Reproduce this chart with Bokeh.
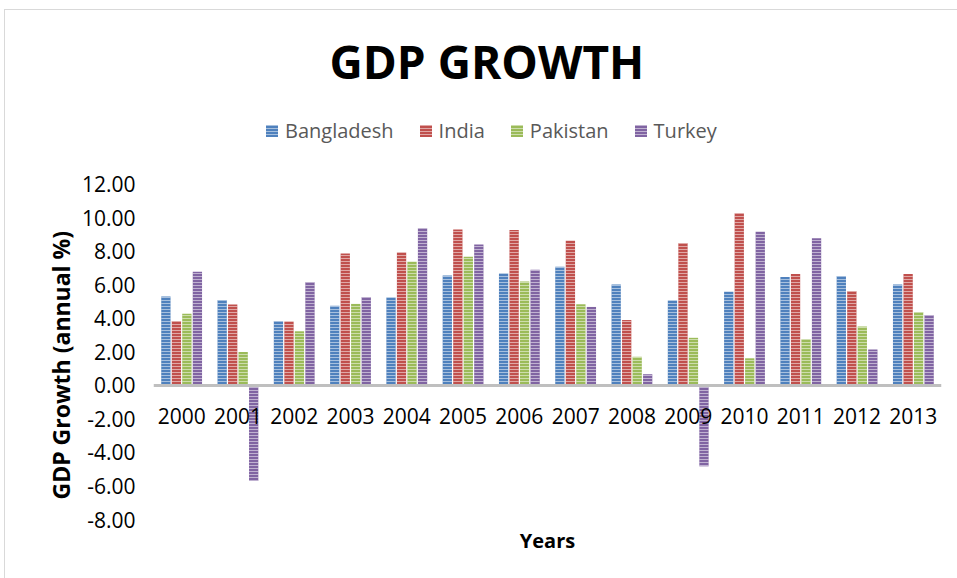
from bokeh.plotting import figure
from bokeh.models import (Range1d, FixedTicker, Legend, LegendItem, Title,
                          ColumnDataSource, CustomJSTickFormatter)
from bokeh.transform import dodge
from bokeh.embed import file_html
from bokeh.resources import INLINE

years = ["2000", "2001", "2002", "2003", "2004", "2005", "2006",
         "2007", "2008", "2009", "2010", "2011", "2012", "2013"]
bangladesh = [5.29, 5.08, 3.83, 4.74, 5.24, 6.54, 6.67, 7.06, 6.01, 5.05, 5.57, 6.46, 6.52, 6.01]
india = [3.84, 4.82, 3.80, 7.86, 7.92, 9.28, 9.26, 8.61, 3.89, 8.48, 10.26, 6.64, 5.62, 6.64]
pakistan = [4.26, 1.98, 3.22, 4.85, 7.37, 7.67, 6.18, 4.83, 1.70, 2.83, 1.61, 2.75, 3.51, 4.37]
turkey = [6.77, -5.70, 6.16, 5.27, 9.36, 8.40, 6.89, 4.67, 0.66, -4.83, 9.16, 8.77, 2.13, 4.19]
series_names = ["Bangladesh", "India", "Pakistan", "Turkey"]
y_ticks = [-8, -6, -4, -2, 0, 2, 4, 6, 8, 10, 12]

colors = ["#4F81BD", "#C0504D", "#9BBB59", "#8064A2"]
FONT = "Open Sans"

idx = list(range(len(years)))
src = ColumnDataSource(dict(x=idx, Bangladesh=bangladesh, India=india,
                            Pakistan=pakistan, Turkey=turkey))

p = figure(width=953, height=569, output_backend="svg", toolbar_location=None,
           x_range=Range1d(-0.5, len(years) - 0.5), y_range=Range1d(-8, 16.5),
           min_border_left=148, min_border_right=17, min_border_top=97,
           min_border_bottom=60)
p.styles = {"margin-left": "4px", "margin-top": "9px",
            "border-top": "1px solid #d9d9d9", "border-left": "1px solid #d9d9d9"}

p.title.text = "GDP GROWTH"
p.title.align = "left"
p.title.offset = 176
p.title.text_font = FONT
p.title.text_font_size = "46px"
p.title.text_font_style = "bold"
p.title.text_color = "black"
p.title.standoff = 34

offsets = [-0.28, -0.093, 0.093, 0.28]
items = []
for name, col, off in zip(series_names, colors, offsets):
    r = p.vbar(x=dodge("x", off), top=name, bottom=0, width=0.165, source=src,
               fill_color=col, line_color=None,
               hatch_pattern="horizontal_line", hatch_color="white",
               hatch_alpha=0.5, hatch_scale=3, hatch_weight=1)
    items.append(LegendItem(label=name, renderers=[r]))

legend = Legend(items=items, orientation="horizontal", location=(111, 375),
                label_text_font=FONT, label_text_font_size="20px",
                label_text_color="#595959", glyph_width=15, glyph_height=15,
                spacing=24, label_standoff=6, border_line_color=None,
                background_fill_alpha=0, margin=0, padding=0)
p.add_layout(legend, "center")

p.xaxis.fixed_location = 0
p.xaxis.ticker = FixedTicker(ticks=idx)
p.xaxis.major_label_overrides = {i: y for i, y in enumerate(years)}
p.xaxis.axis_line_color = "#BFBFBF"
p.xaxis.axis_line_width = 3
p.xaxis.major_tick_line_color = None
p.xaxis.minor_tick_line_color = None
p.xaxis.major_label_text_font = FONT
p.xaxis.major_label_text_font_size = "21px"
p.xaxis.major_label_text_color = "black"
p.xaxis.major_label_standoff = 17

p.yaxis.ticker = FixedTicker(ticks=y_ticks)
p.yaxis.formatter = CustomJSTickFormatter(code="return tick.toFixed(2);")
p.yaxis.axis_line_color = None
p.yaxis.major_tick_line_color = None
p.yaxis.minor_tick_line_color = None
p.yaxis.major_label_text_font = FONT
p.yaxis.major_label_text_font_size = "21px"
p.yaxis.major_label_text_color = "black"
p.yaxis.major_label_standoff = 12

yt = Title(text="GDP Growth (annual %)", align="left", offset=20, standoff=4,
           text_font=FONT, text_font_size="23px", text_font_style="bold",
           text_color="black")
p.add_layout(yt, "left")

xt = Title(text="Years", align="center", text_font=FONT, text_font_size="20px",
           text_font_style="bold", text_color="black")
p.add_layout(xt, "below")

p.xgrid.grid_line_color = None
p.ygrid.grid_line_color = None
p.outline_line_color = None

open("out.html", "w").write(file_html(p, INLINE))
